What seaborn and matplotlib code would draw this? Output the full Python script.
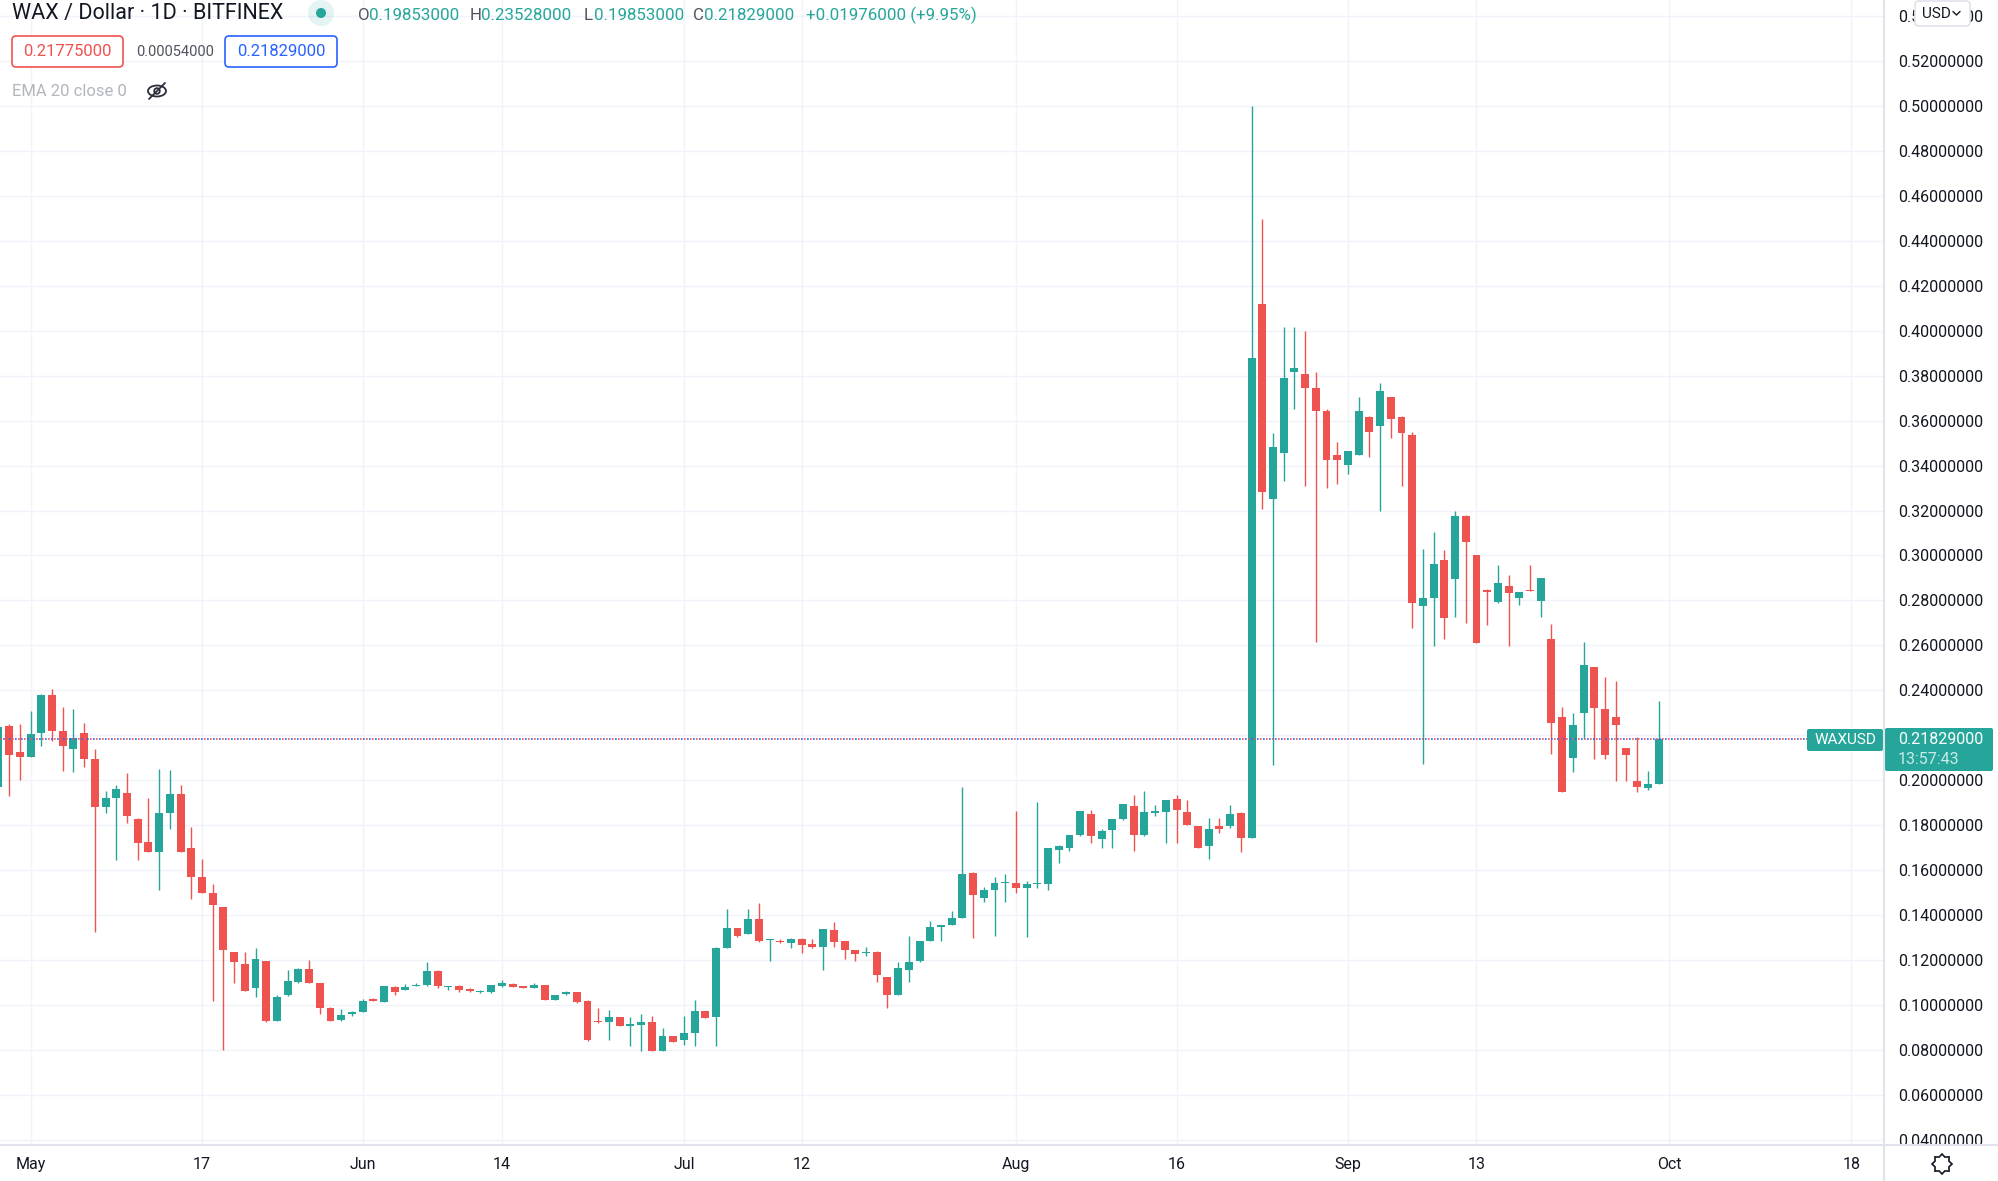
import numpy as np
import pandas as pd
import matplotlib
matplotlib.use("Agg")
import matplotlib.pyplot as plt
from matplotlib.patches import FancyBboxPatch, Circle, Ellipse, Polygon
from matplotlib.ticker import FormatStrFormatter
import seaborn as sns

# WAX / Dollar, daily candles from 28 Apr to 30 Sep 2021
first_day = "2021-04-28"
opens = [
    0.1970, 0.2242, 0.2128, 0.2105, 0.2209, 0.2381, 0.2219, 0.2138, 0.2209, 0.2096,
    0.1879, 0.1920, 0.1945, 0.1827, 0.1726, 0.1682, 0.1853, 0.1938, 0.1697, 0.1568,
    0.1497, 0.1436, 0.1234, 0.1183, 0.1074, 0.1197, 0.0931, 0.1045, 0.1104, 0.1160,
    0.1097, 0.0986, 0.0935, 0.0959, 0.0971, 0.1025, 0.1015, 0.1079, 0.1067, 0.1084,
    0.1089, 0.1150, 0.1079, 0.1086, 0.1071, 0.1056, 0.1059, 0.1086, 0.1095, 0.1082,
    0.1077, 0.1089, 0.1024, 0.1048, 0.1056, 0.1016, 0.0931, 0.0923, 0.0945, 0.0908,
    0.0911, 0.0926, 0.0797, 0.0861, 0.0845, 0.0874, 0.0972, 0.0945, 0.1256, 0.1341,
    0.1316, 0.1385, 0.1289, 0.1286, 0.1274, 0.1295, 0.1271, 0.1260, 0.1332, 0.1283,
    0.1246, 0.1231, 0.1238, 0.1124, 0.1047, 0.1158, 0.1194, 0.1287, 0.1347, 0.1357,
    0.1388, 0.1589, 0.1477, 0.1514, 0.1541, 0.1543, 0.1520, 0.1537, 0.1540, 0.1688,
    0.1699, 0.1755, 0.1849, 0.1740, 0.1780, 0.1829, 0.1884, 0.1755, 0.1856, 0.1859,
    0.1915, 0.1859, 0.1795, 0.1706, 0.1795, 0.1797, 0.1856, 0.1745, 0.4117, 0.3251,
    0.3455, 0.3818, 0.3806, 0.3743, 0.3641, 0.3446, 0.3403, 0.3448, 0.3618, 0.3578,
    0.3704, 0.3618, 0.3535, 0.2776, 0.2810, 0.2980, 0.2894, 0.3177, 0.3000, 0.2848,
    0.2792, 0.2866, 0.2810, 0.2848, 0.2798, 0.2629, 0.2282, 0.2101, 0.2298, 0.2504,
    0.2316, 0.2282, 0.2142, 0.1999, 0.1965, 0.19853,
]
highs = [
    0.2260, 0.2249, 0.2249, 0.2308, 0.2385, 0.2404, 0.2327, 0.2316, 0.2253, 0.2138,
    0.1953, 0.1978, 0.2034, 0.1830, 0.1923, 0.2049, 0.2045, 0.1978, 0.1790, 0.1649,
    0.1538, 0.1436, 0.1234, 0.1234, 0.1255, 0.1197, 0.1045, 0.1157, 0.1163, 0.1202,
    0.1097, 0.0990, 0.0983, 0.0974, 0.1027, 0.1030, 0.1085, 0.1086, 0.1094, 0.1096,
    0.1190, 0.1156, 0.1087, 0.1089, 0.1074, 0.1066, 0.1090, 0.1111, 0.1098, 0.1083,
    0.1098, 0.1090, 0.1047, 0.1062, 0.1058, 0.1021, 0.0985, 0.0979, 0.0946, 0.0945,
    0.0960, 0.0953, 0.0897, 0.0862, 0.0950, 0.1024, 0.0973, 0.1257, 0.1427, 0.1342,
    0.1427, 0.1453, 0.1294, 0.1293, 0.1297, 0.1298, 0.1295, 0.1340, 0.1369, 0.1284,
    0.1247, 0.1258, 0.1239, 0.1125, 0.1191, 0.1309, 0.1285, 0.1372, 0.1356, 0.1419,
    0.1970, 0.1590, 0.1525, 0.1569, 0.1581, 0.1863, 0.1550, 0.1903, 0.1700, 0.1713,
    0.1758, 0.1863, 0.1866, 0.1785, 0.1829, 0.1894, 0.1933, 0.1951, 0.1889, 0.1912,
    0.1936, 0.1911, 0.1796, 0.1832, 0.1832, 0.1889, 0.1857, 0.5000, 0.4497, 0.3544,
    0.4015, 0.4015, 0.3999, 0.3818, 0.3652, 0.3505, 0.3466, 0.3704, 0.3619, 0.3768,
    0.3705, 0.3619, 0.3550, 0.3030, 0.3104, 0.3025, 0.3199, 0.3178, 0.3001, 0.2850,
    0.2957, 0.2912, 0.2838, 0.2957, 0.2900, 0.2697, 0.2327, 0.2298, 0.2615, 0.2505,
    0.2459, 0.2441, 0.2143, 0.2191, 0.2040, 0.23528,
]
lows = [
    0.1925, 0.1928, 0.2002, 0.2105, 0.2153, 0.2175, 0.2042, 0.2039, 0.2059, 0.1326,
    0.1856, 0.1646, 0.1812, 0.1646, 0.1682, 0.1513, 0.1782, 0.1682, 0.1471, 0.1497,
    0.1017, 0.0798, 0.1098, 0.1064, 0.1037, 0.0923, 0.0931, 0.1039, 0.1098, 0.1098,
    0.0960, 0.0927, 0.0927, 0.0953, 0.0968, 0.1016, 0.1012, 0.1045, 0.1067, 0.1083,
    0.1083, 0.1074, 0.1067, 0.1059, 0.1059, 0.1053, 0.1053, 0.1082, 0.1079, 0.1076,
    0.1076, 0.1021, 0.1022, 0.1046, 0.1011, 0.0842, 0.0922, 0.0845, 0.0905, 0.0817,
    0.0797, 0.0797, 0.0797, 0.0836, 0.0822, 0.0820, 0.0941, 0.0820, 0.1255, 0.1304,
    0.1315, 0.1279, 0.1197, 0.1278, 0.1252, 0.1231, 0.1253, 0.1154, 0.1258, 0.1206,
    0.1198, 0.1217, 0.1102, 0.0986, 0.1046, 0.1102, 0.1193, 0.1286, 0.1283, 0.1356,
    0.1387, 0.1298, 0.1458, 0.1309, 0.1458, 0.1498, 0.1302, 0.1520, 0.1514, 0.1633,
    0.1684, 0.1754, 0.1722, 0.1699, 0.1699, 0.1822, 0.1684, 0.1754, 0.1841, 0.1722,
    0.1722, 0.1802, 0.1698, 0.1648, 0.1767, 0.1789, 0.1682, 0.1744, 0.3206, 0.2067,
    0.3331, 0.3652, 0.3308, 0.2617, 0.3301, 0.3319, 0.3362, 0.3447, 0.3437, 0.3199,
    0.3521, 0.3308, 0.2678, 0.2074, 0.2599, 0.2629, 0.2728, 0.2701, 0.2609, 0.2690,
    0.2790, 0.2599, 0.2780, 0.2840, 0.2728, 0.2117, 0.1946, 0.2037, 0.2185, 0.2094,
    0.2094, 0.1999, 0.1999, 0.1949, 0.1958, 0.19853,
]
closes = [
    0.2237, 0.2111, 0.2104, 0.2204, 0.2381, 0.2219, 0.2153, 0.2190, 0.2093, 0.1879,
    0.1920, 0.1960, 0.1839, 0.1723, 0.1682, 0.1856, 0.1938, 0.1682, 0.1568, 0.1497,
    0.1446, 0.1246, 0.1193, 0.1064, 0.1205, 0.0931, 0.1035, 0.1106, 0.1160, 0.1098,
    0.0986, 0.0931, 0.0956, 0.0971, 0.1020, 0.1019, 0.1085, 0.1057, 0.1079, 0.1091,
    0.1150, 0.1086, 0.1086, 0.1068, 0.1061, 0.1064, 0.1089, 0.1098, 0.1082, 0.1077,
    0.1089, 0.1024, 0.1046, 0.1059, 0.1013, 0.0845, 0.0923, 0.0945, 0.0908, 0.0913,
    0.0926, 0.0797, 0.0861, 0.0837, 0.0874, 0.0972, 0.0942, 0.1256, 0.1345, 0.1308,
    0.1385, 0.1286, 0.1293, 0.1279, 0.1296, 0.1269, 0.1258, 0.1339, 0.1280, 0.1246,
    0.1228, 0.1238, 0.1134, 0.1047, 0.1164, 0.1191, 0.1284, 0.1347, 0.1354, 0.1388,
    0.1581, 0.1488, 0.1513, 0.1543, 0.1546, 0.1520, 0.1540, 0.1543, 0.1699, 0.1707,
    0.1755, 0.1862, 0.1752, 0.1773, 0.1826, 0.1893, 0.1755, 0.1859, 0.1862, 0.1911,
    0.1866, 0.1802, 0.1699, 0.1785, 0.1785, 0.1849, 0.1745, 0.3879, 0.3283, 0.3482,
    0.3788, 0.3834, 0.3743, 0.3641, 0.3426, 0.3426, 0.3464, 0.3641, 0.3550, 0.3732,
    0.3607, 0.3544, 0.2787, 0.2810, 0.2962, 0.2724, 0.3177, 0.3059, 0.2610, 0.2837,
    0.2878, 0.2832, 0.2837, 0.2841, 0.2898, 0.2253, 0.1947, 0.2248, 0.2515, 0.2320,
    0.2112, 0.2248, 0.2112, 0.1969, 0.1983, 0.21829,
]

tick_dates = ["2021-05-01", "2021-05-17", "2021-06-01", "2021-06-14", "2021-07-01", "2021-07-12",
              "2021-08-01", "2021-08-16", "2021-09-01", "2021-09-13", "2021-10-01", "2021-10-18"]
tick_labels = ["May", "17", "Jun", "14", "Jul", "12", "Aug", "16", "Sep", "13", "Oct", "18"]
price_ticks = np.round(np.arange(0.04, 0.5401, 0.02), 2)

last_price = 0.21829
bid_price, spread, ask_price = "0.21775000", "0.00054000", "0.21829000"
ohlc_parts = [("O", "0.19853000"), ("H", "0.23528000"), ("L", "0.19853000"), ("C", "0.21829000")]
change_text = "+0.01976000 (+9.95%)"

UP, DOWN = "#26a69a", "#ef5350"
TEXT = "#131722"
W, H = 1999, 1181           # figure size in px
PLOT_R, PLOT_B = 1884, 1144  # right / bottom edge of the candle pane in px

sns.set_style("white")
plt.rcParams["font.family"] = ["Roboto", "DejaVu Sans"]

fig = plt.figure(figsize=(W / 100, H / 100), dpi=100, facecolor="white")
ax = fig.add_axes([0, 1 - PLOT_B / H, PLOT_R / W, PLOT_B / H])

# x = days since 1 May
dates = pd.date_range(first_day, periods=len(opens), freq="D")
origin = pd.Timestamp("2021-05-01")
x = np.array((dates - origin).days)
o, h, l, c = map(np.array, (opens, highs, lows, closes))
colors = np.where(c >= o, UP, DOWN)

ax.vlines(x, l, h, colors=colors, lw=1.0, zorder=3)
body_lo = np.minimum(o, c)
body_h = np.maximum(np.abs(c - o), 0.0006)
ax.bar(x, body_h, bottom=body_lo, width=0.74, color=colors, lw=0, zorder=4)

# last price line (red / blue dotted)
ax.axhline(last_price, color=DOWN, lw=1.2, ls=(0, (1, 2.6)), zorder=5)
ax.axhline(last_price, color="#2962ff", lw=1.2, ls=(1.8, (1, 2.6)), zorder=5)

ax.set_xlim(-2.857, 173.05)
ax.set_ylim(0.0382, 0.5471)

tick_x = [(pd.Timestamp(d) - origin).days for d in tick_dates]
ax.set_xticks(tick_x)
ax.set_xticklabels(tick_labels)
ax.set_yticks(price_ticks)
ax.yaxis.set_major_formatter(FormatStrFormatter("%.8f"))
ax.yaxis.tick_right()
ax.tick_params(axis="y", length=0, pad=10, labelsize=11.5, labelcolor=TEXT)
ax.tick_params(axis="x", length=0, pad=9.5, labelsize=11.5, labelcolor=TEXT)
ax.grid(True, color="#f0f3fa", lw=1.0, zorder=0)
ax.set_axisbelow(True)
sns.despine(ax=ax, left=True, bottom=True, right=True, top=True)

# overlay in pixel coordinates for the TradingView furniture
ov = fig.add_axes([0, 0, 1, 1], zorder=10)
ov.set_xlim(0, W)
ov.set_ylim(H, 0)
ov.axis("off")
ov.patch.set_alpha(0)

ov.plot([PLOT_R + 0.5, PLOT_R + 0.5], [0, H], color="#e0e3eb", lw=1.5)
ov.plot([0, W], [PLOT_B + 0.5, PLOT_B + 0.5], color="#e0e3eb", lw=1.5)

# header
ov.text(12, 14, "WAX / Dollar · 1D · BITFINEX", fontsize=15.5, color=TEXT, va="center")
ov.add_patch(Circle((321, 13), 13, color=UP, alpha=0.12, lw=0))
ov.add_patch(Circle((321, 13), 5, color=UP, lw=0))
for (letter, val), px in zip(ohlc_parts, [358, 470, 584, 693]):
    ov.text(px, 15, letter, fontsize=12.2, color="#50535e", va="center")
    ov.text(px + (11 if letter in "OHC" else 10), 15, val, fontsize=12.2, color=UP, va="center")
ov.text(806, 15, change_text, fontsize=12.2, color=UP, va="center")

ov.add_patch(FancyBboxPatch((12, 36), 111, 31, boxstyle="round,pad=0,rounding_size=4",
                            fc="white", ec=DOWN, lw=1.2))
ov.text(67.5, 51.5, bid_price, fontsize=12, color=DOWN, ha="center", va="center")
ov.text(175, 51.5, spread, fontsize=10.5, color="#50535e", ha="center", va="center")
ov.add_patch(FancyBboxPatch((225, 36), 112, 31, boxstyle="round,pad=0,rounding_size=4",
                            fc="white", ec="#2962ff", lw=1.2))
ov.text(281, 51.5, ask_price, fontsize=12, color="#2962ff", ha="center", va="center")

ov.text(12, 91, "EMA 20 close 0", fontsize=12, color="#b2b5be", va="center")
ov.add_patch(Ellipse((157, 91), 18, 11, fc="none", ec="#2a2e39", lw=1.3))
ov.add_patch(Circle((157, 91), 2.8, fc="none", ec="#2a2e39", lw=1.3))
ov.plot([149, 165], [99, 83], color="#2a2e39", lw=1.3)

# last price tags
ov.add_patch(FancyBboxPatch((1807, 729), 76, 22, boxstyle="round,pad=0,rounding_size=2",
                            fc=UP, ec="none"))
ov.text(1845, 740.5, "WAXUSD", fontsize=11, color="white", ha="center", va="center")
ov.add_patch(FancyBboxPatch((1885, 728), 108, 43, boxstyle="round,pad=0,rounding_size=2",
                            fc=UP, ec="none"))
ov.text(1898, 740, "0.21829000", fontsize=11.5, color="white", va="center")
ov.text(1898, 760, "13:57:43", fontsize=11.5, color="#c8ebe7", va="center")

# currency button over the top price label
ov.add_patch(FancyBboxPatch((1915, 1), 55, 25, boxstyle="round,pad=0,rounding_size=4",
                            fc="white", ec="#e0e3eb", lw=1.2))
ov.text(1922, 13.5, "USD", fontsize=11, color=TEXT, va="center")
ov.plot([1953, 1956.5, 1960], [11.5, 15, 11.5], color=TEXT, lw=1.0)

# settings gear
ang = np.linspace(0, 2 * np.pi, 17)[:-1]
rad = np.where(np.arange(16) % 2 == 0, 10, 7.5)
ov.add_patch(Polygon(np.c_[1942 + rad * np.cos(ang), 1164 + rad * np.sin(ang)],
                     closed=True, fc="none", ec=TEXT, lw=1.2))

fig.savefig("out.png", dpi=100, facecolor="white")
